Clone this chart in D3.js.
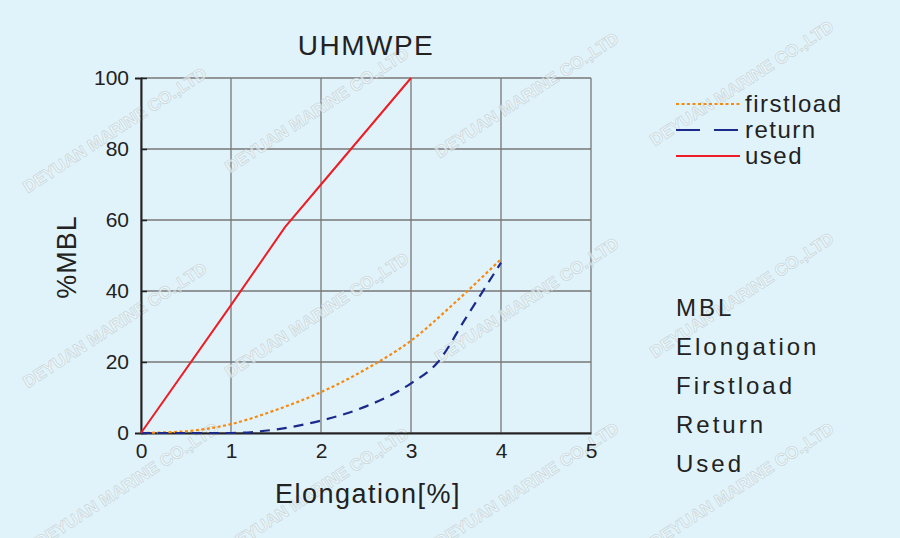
<!DOCTYPE html><html><head><meta charset="utf-8"><script src="https://d3js.org/d3.v7.min.js"></script>
<style>body{margin:0;background:#e1f3fa}</style></head><body><svg id="c" width="900" height="538"></svg>
<script>
const xTicks=[0,1,2,3,4,5];
const yTicks=[0,20,40,60,80,100];
const usedX=[0,1,1.6,2,3], usedY=[0,36,58,70,100];
const firstX=[0,0.5,1,1.5,2,2.5,3,3.5,4], firstY=[0,0.5,2.5,6.5,11.5,18,26,37,49];
const retX=[0,1,1.5,2,2.5,3,3.3,3.6,4], retY=[0,0,1,3.5,7.5,14,20,32,48];
const legendNames=["firstload","return","used"];
const sideLabels=["MBL","Elongation","Firstload","Return","Used"];
const wmCenters=[[118,135],[320,115],[530,100],[745,88],[118,330],[320,320],[530,305],[745,300],[130,490],[320,495],[530,490],[745,490]];
const svg=d3.select("#c");
svg.append("rect").attr("width",900).attr("height",538).attr("fill","#e1f3fa");
const x=d3.scaleLinear().domain([0,5]).range([141,591]);
const y=d3.scaleLinear().domain([0,100]).range([433,78]);
const g=svg.append("g");
xTicks.forEach(t=>g.append("line").attr("x1",x(t)).attr("x2",x(t)).attr("y1",y(0)).attr("y2",y(100)).attr("stroke","#777").attr("stroke-width",1.3));
yTicks.forEach(t=>g.append("line").attr("x1",x(0)).attr("x2",x(5)).attr("y1",y(t)).attr("y2",y(t)).attr("stroke","#777").attr("stroke-width",1.3));
const tf="Liberation Sans, Arial";
wmCenters.forEach(([cx,cy])=>svg.append("text").attr("transform",`translate(${cx},${cy}) rotate(-33)`).attr("text-anchor","middle").attr("font-family",tf).attr("font-weight","bold").attr("font-size",17).attr("fill","#f4fbfd").attr("fill-opacity",0.6).attr("stroke","#b8c4c8").attr("stroke-width",0.8).attr("stroke-opacity",0.6).text("DEYUAN MARINE CO.,LTD"));
const xa=svg.append("g").attr("transform","translate(0,433)").call(d3.axisBottom(x).tickValues(xTicks).tickFormat(d3.format("d")).tickSize(0).tickPadding(10));
const ya=svg.append("g").attr("transform","translate(141,0)").call(d3.axisLeft(y).tickValues(yTicks).tickFormat(d3.format("d")).tickSize(6).tickPadding(6));
[xa,ya].forEach(a=>{a.selectAll("path").attr("stroke","#222").attr("stroke-width",2);a.selectAll("line").attr("stroke","#222").attr("stroke-width",1.5);a.selectAll("text").attr("font-family",tf).attr("font-size",21).attr("fill","#222");});
ya.selectAll(".tick line").attr("transform","translate(6,0)");
const line=(xs,ys,c)=>d3.line().x((d,i)=>x(xs[i])).y(d=>y(d)).curve(c)(ys);
svg.append("path").attr("d",line(firstX,firstY,d3.curveMonotoneX)).attr("fill","none").attr("stroke","#f7890f").attr("stroke-width",2.2).attr("stroke-dasharray","3,2.5");
svg.append("path").attr("d",line(retX,retY,d3.curveMonotoneX)).attr("fill","none").attr("stroke","#1c2a8c").attr("stroke-width",2.2).attr("stroke-dasharray","10,7");
svg.append("path").attr("d",line(usedX,usedY,d3.curveLinear)).attr("fill","none").attr("stroke","#ee1c24").attr("stroke-width",2);
svg.append("text").attr("x",366).attr("y",55).attr("text-anchor","middle").attr("font-family",tf).attr("font-size",28).attr("letter-spacing",1.5).attr("fill","#222").text("UHMWPE");
svg.append("text").attr("x",368).attr("y",503).attr("text-anchor","middle").attr("font-family",tf).attr("font-size",27).attr("letter-spacing",1.5).attr("fill","#222").text("Elongation[%]");
svg.append("text").attr("transform","translate(76,257) rotate(-90)").attr("text-anchor","middle").attr("font-family",tf).attr("font-size",27).attr("letter-spacing",1).attr("fill","#222").text("%MBL");
const lg=[{c:"#f7890f",d:"3,2.5"},{c:"#1c2a8c",d:"24,14"},{c:"#ee1c24",d:null}];
legendNames.forEach((n,i)=>{const yy=104+i*26;
 svg.append("line").attr("x1",676).attr("x2",740).attr("y1",yy).attr("y2",yy).attr("stroke",lg[i].c).attr("stroke-width",2.2).attr("stroke-dasharray",lg[i].d);
 svg.append("text").attr("x",745).attr("y",yy+8).attr("font-family",tf).attr("font-size",24).attr("letter-spacing",1.5).attr("fill","#222").text(n);});
sideLabels.forEach((n,i)=>svg.append("text").attr("x",676).attr("y",316+i*39).attr("font-family",tf).attr("font-size",24).attr("letter-spacing",3).attr("fill","#222").text(n));
</script></body></html>
